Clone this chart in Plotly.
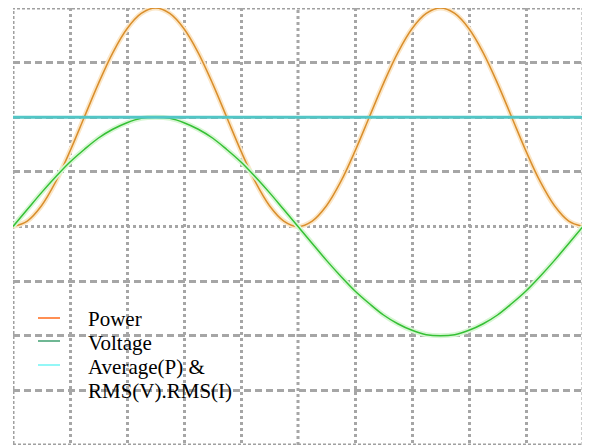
import plotly.graph_objects as go

# time axis in screen divisions (10 divisions = one voltage period)
t_div = [i * 0.25 for i in range(41)]

# values (in vertical divisions)
voltage = [0, 0.31, 0.62, 0.91, 1.18, 1.41, 1.62, 1.78, 1.90, 1.98, 2.0,
           1.98, 1.90, 1.78, 1.62, 1.41, 1.18, 0.91, 0.62, 0.31, 0,
           -0.31, -0.62, -0.91, -1.18, -1.41, -1.62, -1.78, -1.90, -1.98, -2.0,
           -1.98, -1.90, -1.78, -1.62, -1.41, -1.18, -0.91, -0.62, -0.31, 0]
power = [0, 0.10, 0.38, 0.82, 1.38, 2.0, 2.62, 3.18, 3.62, 3.90, 4.0,
         3.90, 3.62, 3.18, 2.62, 2.0, 1.38, 0.82, 0.38, 0.10, 0,
         0.10, 0.38, 0.82, 1.38, 2.0, 2.62, 3.18, 3.62, 3.90, 4.0,
         3.90, 3.62, 3.18, 2.62, 2.0, 1.38, 0.82, 0.38, 0.10, 0]
average_level = 2.0
avg_x = [0, 10]

legend_lines = ["Power", "Voltage", "Average(P) &", "RMS(V).RMS(I)"]
legend_colors = ["#ff6a1a", "#3f9f70", "#6ff5f5"]

x_grid = [1, 2, 3, 4, 6, 7, 8, 9]
y_grid = [-3, -2, -1, 1, 2, 3]

fig = go.Figure()

fig.add_trace(go.Scatter(x=t_div, y=power, mode="lines", line=dict(color="#fbe6c6", width=5, shape="spline"),
                         showlegend=False, hoverinfo="skip"))
fig.add_trace(go.Scatter(x=t_div, y=power, mode="lines", line=dict(color="#d98e2c", width=1.5, shape="spline"),
                         showlegend=False, name="Power"))
fig.add_trace(go.Scatter(x=t_div, y=voltage, mode="lines", line=dict(color="#d8f6d4", width=5, shape="spline"),
                         showlegend=False, hoverinfo="skip"))
fig.add_trace(go.Scatter(x=t_div, y=voltage, mode="lines", line=dict(color="#35c035", width=1.5, shape="spline"),
                         showlegend=False, name="Voltage"))
fig.add_trace(go.Scatter(x=avg_x, y=[average_level, average_level], mode="lines",
                         line=dict(color="#52c6c6", width=3), showlegend=False,
                         name="Average(P) & RMS(V).RMS(I)"))

grid_col = "#a6a6a6"
fig.add_shape(type="line", x0=0, x1=10, y0=0, y1=0, xref="x", yref="y",
              line=dict(color=grid_col, width=3, dash="3px,3px"), layer="below")
fig.add_shape(type="line", x0=5, x1=5, y0=-4, y1=4, xref="x", yref="y",
              line=dict(color=grid_col, width=3, dash="3px,3px"), layer="below")
fig.add_shape(type="rect", x0=0, x1=10, y0=-4, y1=4, xref="x", yref="y",
              line=dict(color="#a0a0a0", width=3, dash="3px,2px"), layer="below")

# hand-placed legend (plot area: 570 x 437 px)
PW, PH = 570.0, 437.0
text_y_px = [126, 102, 78, 54]   # px above plot bottom for text centres
line_y_px = [127, 104, 80]
for i, col in enumerate(legend_colors):
    fig.add_shape(type="line", xref="paper", yref="paper",
                  x0=25 / PW, x1=47 / PW, y0=line_y_px[i] / PH, y1=line_y_px[i] / PH,
                  line=dict(color=col, width=1.5))
for txt, ty in zip(legend_lines, text_y_px):
    fig.add_annotation(text=txt, xref="paper", yref="paper", x=73 / PW, y=ty / PH,
                       xanchor="left", yanchor="middle", showarrow=False,
                       font=dict(family="Liberation Serif", size=21, color="black"))

fig.update_layout(
    width=582, height=440,
    margin=dict(l=5, r=7, t=0, b=3),
    paper_bgcolor="white", plot_bgcolor="white",
    showlegend=False,
    xaxis=dict(range=[0, 10], tickvals=x_grid, showticklabels=False, ticks="",
               showgrid=True, gridcolor=grid_col, gridwidth=3, griddash="3px,3px",
               zeroline=False, showline=False, fixedrange=True),
    yaxis=dict(range=[-4, 4], tickvals=y_grid, showticklabels=False, ticks="",
               showgrid=True, gridcolor=grid_col, gridwidth=2.5, griddash="7px,4px",
               zeroline=False, showline=False, fixedrange=True),
)

fig.write_html("out.html")
